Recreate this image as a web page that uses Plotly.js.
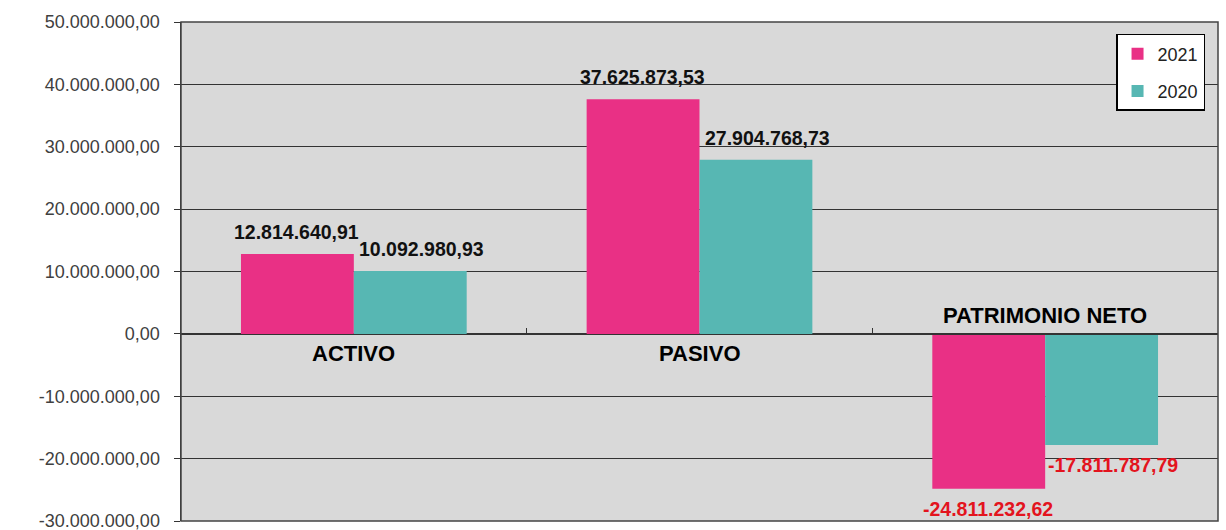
<!DOCTYPE html>
<html>
<head>
<meta charset="utf-8">
<script src="https://cdn.plot.ly/plotly-3.0.1.min.js"></script>
<style>
  html, body { margin: 0; padding: 0; background: #ffffff; }
  #chart { width: 1226px; height: 530px; }
</style>
</head>
<body>
<div id="chart"></div>
<script>
// categories and values (euros)
const categories = ["ACTIVO", "PASIVO", "PATRIMONIO NETO"];
const values2021 = [12814640.91, 37625873.53, -24811232.62];
const values2020 = [10092980.93, 27904768.73, -17811787.79];
const seriesNames = ["2021", "2020"];
const yTicks = [-30000000, -20000000, -10000000, 0, 10000000, 20000000, 30000000, 40000000, 50000000];

const PINK = "#E93085";
const TEAL = "#57B7B3";
const FONT = "Liberation Sans, Arial, sans-serif";

// spanish style number: 12.814.640,91 (plain hyphen for negatives)
function fmt(v) {
  const neg = v < 0;
  const parts = Math.abs(v).toFixed(2).split(".");
  const intPart = parts[0].replace(/\B(?=(\d{3})+(?!\d))/g, ".");
  return (neg ? "-" : "") + intPart + "," + parts[1];
}

function makeBar(name, vals, color) {
  return {
    type: "bar",
    name: name,
    legendgroup: name,
    x: categories,
    y: vals,
    marker: { color: color, line: { width: 0 } },
    hoverinfo: "x+y",
  };
}

const traces = [
  makeBar(seriesNames[0], values2021, PINK),
  makeBar(seriesNames[1], values2020, TEAL),
];

// value labels above / below each bar
const annotations = [];
[values2021, values2020].forEach((vals, k) => {
  vals.forEach((v, i) => {
    annotations.push({
      x: categories[i],
      y: v,
      xref: "x",
      yref: "y",
      text: "<b>" + fmt(v) + "</b>",
      showarrow: false,
      xanchor: "center",
      yanchor: "middle",
      xshift: k === 0 ? -57 : 68,
      yshift: v >= 0 ? 22 : -20,
      font: { family: FONT, size: 19.5, color: v >= 0 ? "#111111" : "#E3141E" },
    });
  });
});

// category names sit on the zero line
categories.forEach((c, i) => {
  const allNeg = values2021[i] < 0 && values2020[i] < 0;
  annotations.push({
    x: c,
    y: 0,
    xref: "x",
    yref: "y",
    text: "<b>" + c + "</b>",
    showarrow: false,
    yanchor: "middle",
    yshift: allNeg ? 18 : -20,
    font: { family: FONT, size: 22, color: "#000000" },
  });
});

const layout = {
  width: 1226,
  height: 530,
  margin: { l: 181, r: 8, t: 22, b: 9 },
  paper_bgcolor: "#ffffff",
  plot_bgcolor: "#D9D9D9",
  font: { family: FONT, size: 18, color: "#404040" },
  barmode: "group",
  bargap: 0.347,
  bargroupgap: 0,
  showlegend: true,
  legend: {
    x: 0.9875,
    y: 0.976,
    xanchor: "right",
    yanchor: "top",
    bgcolor: "#ffffff",
    bordercolor: "#000000",
    borderwidth: 1.5,
    traceorder: "grouped",
    tracegroupgap: 11,
    font: { family: FONT, size: 18, color: "#222222" },
  },
  xaxis: {
    type: "category",
    range: [-0.5, 2.5],
    anchor: "free",
    position: 0.375,
    showline: true,
    linecolor: "#333333",
    linewidth: 1,
    ticks: "inside",
    ticklen: 6,
    tickcolor: "#333333",
    tickson: "boundaries",
    showticklabels: false,
    showgrid: false,
    zeroline: false,
    fixedrange: true,
  },
  yaxis: {
    range: [-30000000, 50000000],
    tickmode: "array",
    tickvals: yTicks,
    ticktext: yTicks.map(fmt),
    ticklabeloverflow: "allow",
    showgrid: true,
    gridcolor: "#333333",
    gridwidth: 1,
    zeroline: false,
    showline: true,
    linecolor: "#333333",
    linewidth: 1.5,
    ticks: "outside",
    ticklen: 6,
    tickcolor: "#333333",
    ticklabelstandoff: 10,
    tickfont: { family: FONT, size: 18, color: "#404040" },
    fixedrange: true,
  },
  shapes: [
    {
      type: "rect",
      xref: "paper",
      yref: "paper",
      x0: 0, x1: 1, y0: 0, y1: 1,
      line: { color: "#444444", width: 1.5 },
      layer: "above",
    },
  ],
  annotations: annotations,
};

Plotly.newPlot("chart", traces, layout, { staticPlot: true, displayModeBar: false });
</script>
</body>
</html>
